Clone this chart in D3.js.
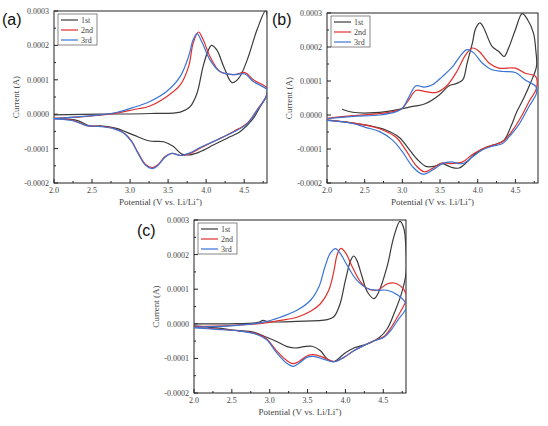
<!DOCTYPE html>
<html>
<head>
<meta charset="utf-8">
<script src="https://cdn.jsdelivr.net/npm/d3@7"></script>
<style>
  body { margin: 0; background: #fff; }
  .tick-label { font-family: 'Liberation Serif', serif; font-size: 8px; fill: #444; }
  .axis-title { font-family: 'Liberation Serif', serif; font-size: 9px; fill: #444; }
  .panel-label { font-family: 'Liberation Sans', Arial, sans-serif; font-size: 16px; fill: #111; }
  .legend-text { font-family: 'Liberation Serif', serif; font-size: 8px; fill: #444; }
</style>
</head>
<body>
<div id="chart"></div>
<script>
const W = 548, H = 426;
const cycleNames = ['1st', '2nd', '3rd'];
const colors = ['#3b3b3b', '#e0302d', '#3a74d6'];
const xTicks = [2.0, 2.5, 3.0, 3.5, 4.0, 4.5];
const yTicks = [-2, -1, 0, 1, 2, 3]; // units of 1e-4 A

// each curve: [potential V, current in 1e-4 A], anodic sweep then cathodic sweep
const a1st = [[2.00,-0.02],[2.61,0.00],[3.26,0.02],[3.66,0.06],[3.79,0.22],[3.88,0.61],[3.96,1.39],[4.03,1.87],[4.07,2.00],[4.14,1.87],[4.23,1.39],[4.34,0.92],[4.43,1.05],[4.54,1.58],[4.67,2.46],[4.78,3.01],[4.80,2.90],
  [4.80,0.60],[4.71,0.22],[4.62,-0.12],[4.45,-0.50],[4.32,-0.65],[4.10,-0.89],[3.92,-1.09],[3.79,-1.18],[3.68,-1.16],[3.57,-0.94],[3.44,-0.80],[3.26,-0.78],[3.04,-0.60],[2.82,-0.41],[2.61,-0.34],[2.47,-0.34],[2.30,-0.18],[2.00,-0.12]];
const a2nd = [[2.00,-0.12],[2.39,-0.07],[2.82,0.03],[3.04,0.13],[3.26,0.24],[3.48,0.51],[3.66,0.85],[3.77,1.39],[3.83,2.07],[3.90,2.39],[3.96,2.17],[4.05,1.68],[4.18,1.24],[4.36,1.15],[4.51,1.21],[4.62,1.00],[4.80,0.76],
  [4.80,0.56],[4.67,0.13],[4.54,-0.26],[4.36,-0.50],[4.14,-0.75],[3.92,-0.99],[3.77,-1.16],[3.66,-1.20],[3.55,-1.14],[3.46,-1.23],[3.37,-1.46],[3.29,-1.55],[3.20,-1.45],[3.11,-1.14],[3.02,-0.78],[2.91,-0.53],[2.78,-0.41],[2.61,-0.35],[2.43,-0.33],[2.25,-0.18],[2.00,-0.13]];
const a3rd = [[2.00,-0.13],[2.61,-0.02],[2.82,0.05],[3.04,0.19],[3.26,0.37],[3.48,0.66],[3.66,1.10],[3.77,1.68],[3.83,2.17],[3.88,2.34],[3.94,2.12],[4.05,1.58],[4.18,1.24],[4.36,1.15],[4.51,1.17],[4.62,0.95],[4.80,0.71],
  [4.80,0.56],[4.67,0.11],[4.54,-0.28],[4.36,-0.52],[4.14,-0.75],[3.92,-0.97],[3.77,-1.14],[3.66,-1.20],[3.55,-1.14],[3.46,-1.25],[3.37,-1.48],[3.29,-1.58],[3.20,-1.48],[3.11,-1.16],[3.02,-0.80],[2.91,-0.54],[2.78,-0.42],[2.61,-0.36],[2.43,-0.33],[2.25,-0.19],[2.00,-0.14]];

const b1st = [[2.20,0.17],[2.34,0.08],[2.56,0.06],[2.87,0.13],[3.09,0.23],[3.31,0.34],[3.49,0.59],[3.62,0.86],[3.71,0.92],[3.80,1.03],[3.86,1.53],[3.93,2.12],[3.97,2.53],[4.03,2.71],[4.08,2.56],[4.19,2.02],[4.28,1.87],[4.35,1.72],[4.41,1.97],[4.50,2.51],[4.59,2.98],[4.66,2.81],[4.74,2.41],[4.77,1.92],
  [4.78,1.43],[4.70,0.94],[4.61,0.49],[4.52,0.10],[4.44,-0.34],[4.35,-0.74],[4.24,-0.86],[4.11,-0.95],[3.97,-1.13],[3.86,-1.38],[3.75,-1.56],[3.64,-1.53],[3.53,-1.43],[3.42,-1.51],[3.31,-1.51],[3.20,-1.31],[3.09,-1.01],[2.96,-0.66],[2.78,-0.44],[2.56,-0.31],[2.43,-0.27],[2.26,-0.21],[2.00,-0.15]];
const b2nd = [[2.00,-0.10],[2.34,-0.02],[2.70,0.04],[2.92,0.12],[3.00,0.20],[3.09,0.46],[3.18,0.72],[3.31,0.69],[3.44,0.66],[3.58,0.84],[3.71,1.23],[3.84,1.77],[3.93,1.97],[4.02,1.87],[4.15,1.53],[4.28,1.38],[4.50,1.38],[4.63,1.23],[4.77,1.13],
  [4.78,0.79],[4.68,0.39],[4.59,0.00],[4.46,-0.46],[4.33,-0.79],[4.19,-0.89],[4.06,-1.00],[3.93,-1.16],[3.80,-1.38],[3.64,-1.43],[3.53,-1.41],[3.40,-1.57],[3.29,-1.67],[3.18,-1.48],[3.05,-1.05],[2.92,-0.66],[2.74,-0.44],[2.56,-0.32],[2.34,-0.23],[2.00,-0.15]];
const b3rd = [[2.00,-0.11],[2.34,-0.04],[2.70,0.00],[2.92,0.10],[3.00,0.20],[3.09,0.54],[3.18,0.86],[3.29,0.82],[3.40,0.89],[3.53,1.13],[3.67,1.43],[3.78,1.77],[3.86,1.92],[3.95,1.82],[4.06,1.53],[4.19,1.33],[4.33,1.28],[4.50,1.25],[4.63,1.03],[4.77,0.84],
  [4.78,0.64],[4.68,0.25],[4.55,-0.27],[4.41,-0.66],[4.33,-0.84],[4.19,-0.92],[4.06,-1.03],[3.93,-1.23],[3.80,-1.43],[3.64,-1.38],[3.53,-1.43],[3.40,-1.62],[3.27,-1.74],[3.14,-1.53],[3.00,-1.08],[2.87,-0.74],[2.70,-0.49],[2.52,-0.37],[2.34,-0.25],[2.00,-0.16]];

const c1st = [[2.00,0.00],[2.47,0.00],[2.85,0.04],[2.91,0.10],[2.97,0.06],[3.36,0.07],[3.76,0.12],[3.85,0.21],[3.93,0.58],[4.00,1.26],[4.07,1.84],[4.11,1.96],[4.15,1.84],[4.22,1.36],[4.29,0.92],[4.38,0.73],[4.44,0.92],[4.55,1.65],[4.64,2.52],[4.72,2.96],[4.77,2.77],[4.80,2.14],
  [4.80,1.46],[4.74,0.87],[4.65,0.34],[4.55,-0.15],[4.44,-0.41],[4.29,-0.58],[4.11,-0.70],[3.98,-0.87],[3.85,-1.09],[3.76,-1.02],[3.67,-0.78],[3.56,-0.65],[3.45,-0.66],[3.34,-0.70],[3.23,-0.66],[3.09,-0.51],[2.96,-0.39],[2.78,-0.24],[2.56,-0.19],[2.30,-0.12],[2.00,-0.06]];
const c2nd = [[2.00,-0.08],[2.47,-0.05],[2.92,0.02],[3.14,0.10],[3.36,0.19],[3.54,0.36],[3.67,0.58],[3.78,0.97],[3.85,1.55],[3.89,1.99],[3.94,2.18],[4.00,2.06],[4.09,1.65],[4.20,1.21],[4.29,1.02],[4.42,0.97],[4.55,1.15],[4.64,1.18],[4.73,1.09],[4.80,0.87],
  [4.80,0.68],[4.69,0.21],[4.60,-0.12],[4.51,-0.37],[4.38,-0.49],[4.24,-0.63],[4.11,-0.78],[3.98,-0.97],[3.85,-1.09],[3.71,-0.97],[3.58,-0.89],[3.49,-0.93],[3.40,-1.07],[3.31,-1.15],[3.23,-1.07],[3.09,-0.78],[2.96,-0.44],[2.83,-0.29],[2.61,-0.21],[2.30,-0.15],[2.00,-0.10]];
const c3rd = [[2.00,-0.10],[2.47,-0.06],[2.92,0.05],[3.14,0.19],[3.36,0.39],[3.54,0.68],[3.65,1.07],[3.73,1.65],[3.80,2.04],[3.87,2.17],[3.93,2.04],[4.02,1.70],[4.15,1.26],[4.29,1.02],[4.42,0.97],[4.55,0.97],[4.69,0.83],[4.80,0.58],
  [4.80,0.44],[4.69,0.10],[4.60,-0.19],[4.51,-0.39],[4.38,-0.49],[4.24,-0.63],[4.11,-0.78],[3.98,-0.97],[3.85,-1.10],[3.71,-1.02],[3.58,-0.94],[3.49,-0.97],[3.40,-1.12],[3.31,-1.23],[3.23,-1.15],[3.09,-0.83],[2.96,-0.46],[2.83,-0.31],[2.61,-0.21],[2.30,-0.16],[2.00,-0.12]];

const panels = [
  { label: '(a)', lx: 2, ly: 25, box: { l: 54, r: 267, t: 11, b: 183 }, curves: [a1st, a2nd, a3rd] },
  { label: '(b)', lx: 272, ly: 25, box: { l: 327, r: 538, t: 13, b: 183 }, curves: [b1st, b2nd, b3rd] },
  { label: '(c)', lx: 137, ly: 236, box: { l: 194, r: 406, t: 220, b: 393 }, curves: [c1st, c2nd, c3rd] }
];

const svg = d3.select('#chart').append('svg')
  .attr('width', W).attr('height', H)
  .attr('viewBox', `0 0 ${W} ${H}`);

panels.forEach(p => {
  const bx = p.box;
  const x = d3.scaleLinear().domain([2.0, 4.8]).range([bx.l, bx.r]);
  const y = d3.scaleLinear().domain([-2, 3]).range([bx.b, bx.t]);
  const g = svg.append('g');

  // frame
  g.append('rect')
    .attr('x', bx.l).attr('y', bx.t)
    .attr('width', bx.r - bx.l).attr('height', bx.b - bx.t)
    .attr('fill', 'none').attr('stroke', '#222').attr('stroke-width', 1);

  // x ticks (inward), with minor ticks
  const xMinor = d3.range(2.25, 4.8, 0.5);
  g.selectAll('.xt').data(xTicks).enter().append('line')
    .attr('x1', d => x(d)).attr('x2', d => x(d))
    .attr('y1', bx.b).attr('y2', bx.b - 4)
    .attr('stroke', '#222');
  g.selectAll('.xm').data(xMinor).enter().append('line')
    .attr('x1', d => x(d)).attr('x2', d => x(d))
    .attr('y1', bx.b).attr('y2', bx.b - 2)
    .attr('stroke', '#222');
  g.selectAll('.xl').data(xTicks).enter().append('text')
    .attr('class', 'tick-label')
    .attr('x', d => x(d)).attr('y', bx.b + 10)
    .attr('text-anchor', 'middle')
    .text(d => d.toFixed(1));

  // y ticks
  const yMinor = d3.range(-1.5, 3, 1);
  g.selectAll('.yt').data(yTicks).enter().append('line')
    .attr('x1', bx.l).attr('x2', bx.l + 4)
    .attr('y1', d => y(d)).attr('y2', d => y(d))
    .attr('stroke', '#222');
  g.selectAll('.ym').data(yMinor).enter().append('line')
    .attr('x1', bx.l).attr('x2', bx.l + 2)
    .attr('y1', d => y(d)).attr('y2', d => y(d))
    .attr('stroke', '#222');
  g.selectAll('.yl').data(yTicks).enter().append('text')
    .attr('class', 'tick-label')
    .attr('x', bx.l - 5).attr('y', d => y(d) + 3)
    .attr('text-anchor', 'end')
    .text(d => (d * 1e-4).toFixed(4));

  // axis titles
  const xt = g.append('text')
    .attr('class', 'axis-title')
    .attr('x', (bx.l + bx.r) / 2).attr('y', bx.b + 22)
    .attr('text-anchor', 'middle');
  xt.append('tspan').text('Potential (V vs. Li/Li');
  xt.append('tspan').attr('baseline-shift', 'super').attr('font-size', '6px').text('+');
  xt.append('tspan').text(')');

  g.append('text')
    .attr('class', 'axis-title')
    .attr('transform', `translate(${bx.l - 35},${(bx.t + bx.b) / 2}) rotate(-90)`)
    .attr('text-anchor', 'middle')
    .text('Current (A)');

  // curves
  const line = d3.line()
    .x(d => x(d[0])).y(d => y(d[1]))
    .curve(d3.curveCatmullRom.alpha(0.5));
  const clipId = 'clip' + p.label.replace(/\W/g, '');
  svg.append('clipPath').attr('id', clipId).append('rect')
    .attr('x', bx.l).attr('y', bx.t).attr('width', bx.r - bx.l).attr('height', bx.b - bx.t);
  g.append('g').attr('clip-path', `url(#${clipId})`)
    .selectAll('path').data(p.curves).enter().append('path')
    .attr('d', line)
    .attr('fill', 'none')
    .attr('stroke', (d, i) => colors[i])
    .attr('stroke-width', 1.2);

  // legend
  const lg = g.append('g').attr('transform', `translate(${bx.l + 4},${bx.t + 3})`);
  lg.append('rect').attr('width', 39).attr('height', 31)
    .attr('fill', '#fff').attr('stroke', '#555').attr('stroke-width', 0.7);
  cycleNames.forEach((n, i) => {
    lg.append('line')
      .attr('x1', 3).attr('x2', 20)
      .attr('y1', 6 + i * 10).attr('y2', 6 + i * 10)
      .attr('stroke', colors[i]).attr('stroke-width', 1.2);
    lg.append('text').attr('class', 'legend-text')
      .attr('x', 23).attr('y', 9 + i * 10)
      .text(n);
  });

  // panel label
  svg.append('text').attr('class', 'panel-label')
    .attr('x', p.lx).attr('y', p.ly)
    .text(p.label);
});
</script>
</body>
</html>
